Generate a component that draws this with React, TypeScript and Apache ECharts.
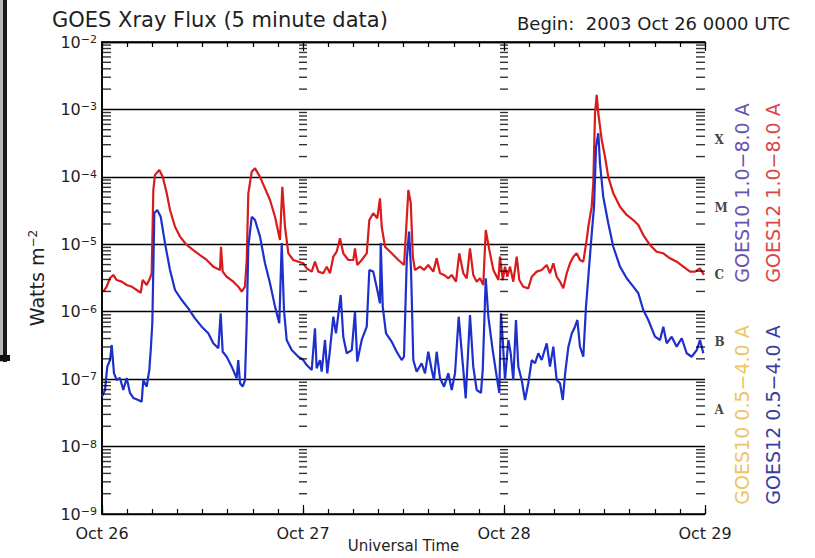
import React, { useEffect, useRef } from 'react';
import * as echarts from 'echarts';

const dayLabels = ['Oct 26', 'Oct 27', 'Oct 28', 'Oct 29'];

// GOES12 1.0-8.0 A (hours since 2003 Oct 26 00:00 UT, W m^-2)
const redHours = [
  0.16, 0.56, 0.96, 1.35, 1.76, 2.35, 2.95, 3.55, 4.14, 4.62,
  4.86, 5.34, 5.73, 5.93, 6.13, 6.33, 6.84, 7.25, 7.73, 8.12,
  8.72, 9.31, 10.11, 10.90, 11.70, 12.50, 13.29, 14.09, 14.21, 14.41,
  14.89, 15.68, 16.28, 16.68, 17.07, 17.28, 17.47, 17.88, 18.27, 18.87,
  19.46, 20.06, 20.66, 21.25, 21.53, 21.85, 22.25, 22.84, 23.44, 24.04,
  24.44, 25.04, 25.43, 25.83, 26.42, 26.83, 27.22, 27.62, 28.02, 28.42,
  28.81, 29.41, 30.01, 30.21, 30.48, 31.01, 31.61, 31.92, 32.39, 32.87,
  33.19, 33.40, 33.79, 34.59, 35.39, 36.07, 36.39, 36.58, 36.87, 37.11,
  37.37, 37.97, 38.45, 38.96, 39.56, 39.96, 40.36, 40.84, 41.35, 41.76,
  42.27, 42.66, 43.14, 43.55, 43.94, 44.33, 44.74, 45.13, 45.53, 45.82,
  46.21, 46.73, 47.33, 47.52, 47.85, 48.12, 48.40, 48.72, 49.11, 49.52,
  49.83, 50.30, 50.90, 51.31, 51.90, 52.50, 53.10, 53.49, 53.89, 54.29,
  54.69, 55.08, 55.49, 55.88, 56.28, 56.68, 57.07, 57.47, 57.87, 58.07,
  58.47, 58.66, 58.87, 59.07, 59.26, 59.67, 60.06, 60.45, 61.05, 61.85,
  62.65, 63.44, 64.04, 64.63, 65.43, 66.23, 67.02, 67.82, 68.62, 69.41,
  70.21, 70.81, 71.40, 71.88,
];
const redFlux = [
  1.98e-6, 2.35e-6, 3.16e-6, 3.51e-6, 2.95e-6, 2.79e-6, 2.49e-6, 2.35e-6, 2.10e-6, 1.91e-6,
  2.95e-6, 2.49e-6, 3.13e-6, 3.72e-6, 6.38e-5, 1.07e-4, 1.26e-4, 1.0e-4, 5.70e-5, 3.23e-5,
  1.82e-5, 1.30e-5, 9.77e-6, 8.22e-6, 6.93e-6, 5.85e-6, 4.66e-6, 4.16e-6, 9.2e-6, 3.93e-6,
  3.30e-6, 2.79e-6, 2.35e-6, 1.98e-6, 2.35e-6, 5.85e-6, 5.70e-5, 1.19e-4, 1.34e-4, 1.0e-4,
  6.76e-5, 4.54e-5, 2.56e-5, 1.16e-5, 7.14e-5, 1.82e-5, 7.35e-6, 5.85e-6, 5.52e-6, 5.22e-6,
  4.40e-6, 3.93e-6, 5.52e-6, 3.93e-6, 3.72e-6, 4.66e-6, 3.72e-6, 6.55e-6, 7.76e-6, 1.23e-5,
  7.35e-6, 5.85e-6, 5.85e-6, 8.72e-6, 4.93e-6, 5.85e-6, 7.35e-6, 2.29e-5, 2.88e-5, 2.43e-5,
  4.81e-5, 1.82e-5, 9.2e-6, 7.35e-6, 5.85e-6, 4.93e-6, 2.43e-5, 6.38e-5, 4.06e-5, 6.55e-6,
  4.16e-6, 4.66e-6, 4.16e-6, 4.93e-6, 3.93e-6, 6.2e-6, 3.72e-6, 3.51e-6, 3.13e-6, 3.51e-6,
  2.79e-6, 7.35e-6, 3.72e-6, 3.13e-6, 8.72e-6, 3.51e-6, 2.79e-6, 3.13e-6, 2.49e-6, 1.63e-5,
  8.72e-6, 4.16e-6, 2.95e-6, 6.55e-6, 2.95e-6, 4.66e-6, 3.30e-6, 4.66e-6, 2.79e-6, 6.55e-6,
  2.95e-6, 2.35e-6, 2.22e-6, 3.30e-6, 3.93e-6, 4.16e-6, 4.93e-6, 3.72e-6, 5.22e-6, 3.30e-6,
  2.79e-6, 2.22e-6, 3.72e-6, 5.22e-6, 6.55e-6, 7.35e-6, 5.85e-6, 5.52e-6, 1.16e-5, 1.82e-5,
  3.61e-5, 8.03e-5, 8.77e-4, 1.64e-3, 8.77e-4, 3.52e-4, 1.99e-4, 1.0e-4, 5.70e-5, 3.61e-5,
  2.72e-5, 2.29e-5, 1.93e-5, 1.37e-5, 9.77e-6, 7.76e-6, 7.35e-6, 6.2e-6, 5.52e-6, 4.66e-6,
  3.93e-6, 3.93e-6, 4.40e-6, 3.51e-6,
];

// GOES12 0.5-4.0 A
const blueHours = [
  0, 0.36, 0.63, 0.96, 1.16, 1.43, 1.76, 2.15, 2.54, 2.95,
  3.34, 3.74, 4.33, 4.74, 4.93, 5.34, 5.65, 5.82, 6.01, 6.25,
  6.60, 7.01, 7.52, 8.12, 8.72, 9.52, 10.30, 11.10, 11.90, 12.69,
  13.29, 13.89, 14.17, 14.41, 14.89, 15.49, 16.08, 16.27, 16.48, 16.80,
  17.07, 17.28, 17.47, 17.88, 18.27, 18.87, 19.46, 20.06, 20.66, 21.17,
  21.46, 21.73, 22.05, 22.65, 23.44, 24.04, 24.44, 25.04, 25.43, 25.63,
  26.03, 26.23, 26.63, 26.90, 27.22, 27.62, 27.94, 28.50, 28.81, 29.22,
  29.82, 30.21, 30.48, 31.01, 31.61, 31.92, 32.39, 32.87, 33.19, 33.28,
  33.52, 33.91, 34.59, 35.19, 35.78, 36.06, 36.39, 36.66, 36.90, 37.17,
  37.57, 38.17, 38.57, 38.96, 39.37, 39.64, 39.96, 40.36, 40.84, 41.35,
  41.76, 42.15, 42.59, 43.14, 43.43, 43.94, 44.33, 44.74, 45.25, 45.46,
  45.82, 46.13, 46.65, 47.13, 47.44, 47.64, 47.85, 48.12, 48.52, 48.80,
  49.11, 49.43, 49.71, 50.11, 50.51, 50.90, 51.31, 51.70, 52.10, 52.50,
  53.10, 53.49, 53.89, 54.29, 54.69, 55.02, 55.30, 55.69, 56.10, 56.48,
  56.76, 57.07, 57.47, 57.79, 58.07, 58.48, 58.75, 58.99, 59.26, 59.46,
  59.85, 60.45, 61.05, 61.85, 62.65, 63.44, 64.04, 64.63, 65.23, 66.03,
  66.63, 67.02, 67.43, 68.02, 68.62, 69.22, 69.81, 70.41, 71.01, 71.40,
  71.80,
];
const blueFlux = [
  5.5e-8, 6.9e-8, 1.53e-7, 1.92e-7, 3.21e-7, 1.23e-7, 9.7e-8, 1.04e-7, 6.9e-8, 1.04e-7,
  6.24e-8, 5.26e-8, 4.91e-8, 4.63e-8, 9.7e-8, 7.73e-8, 1.37e-7, 2.7e-7, 6.81e-7, 2.91e-5,
  3.23e-5, 2.56e-5, 1.04e-5, 4.16e-6, 2.10e-6, 1.49e-6, 1.12e-6, 7.98e-7, 6.0e-7, 4.79e-7,
  3.40e-7, 2.87e-7, 9.48e-7, 2.55e-7, 2.15e-7, 1.53e-7, 1.03e-7, 1.92e-7, 8.69e-8, 7.73e-8,
  9.7e-8, 6.73e-7, 9.2e-6, 2.56e-5, 2.29e-5, 1.30e-5, 5.22e-6, 2.64e-6, 1.19e-6, 6.73e-7,
  1.04e-5, 1.06e-6, 3.81e-7, 2.7e-7, 2.15e-7, 1.92e-7, 1.62e-7, 1.37e-7, 5.68e-7, 1.45e-7,
  1.92e-7, 1.29e-7, 3.81e-7, 1.22e-7, 2.7e-7, 8.43e-7, 4.79e-7, 1.77e-6, 4.26e-7, 2.42e-7,
  2.7e-7, 1.0e-6, 1.82e-7, 3.81e-7, 6.0e-7, 4.16e-6, 3.93e-6, 2.10e-6, 1.33e-6, 1.04e-5,
  1.19e-6, 4.79e-7, 3.59e-7, 2.55e-7, 1.92e-7, 2.15e-7, 5.85e-6, 1.54e-5, 4.16e-6, 1.92e-7,
  1.29e-7, 1.72e-7, 1.22e-7, 2.55e-7, 1.37e-7, 9.7e-8, 2.55e-7, 1.03e-7, 7.73e-8, 1.22e-7,
  6.9e-8, 1.22e-7, 8.43e-7, 1.37e-7, 5.2e-8, 8.94e-7, 1.53e-7, 6.9e-8, 6.24e-8, 1.37e-7,
  3.13e-6, 8.43e-7, 2.7e-7, 1.09e-7, 6.24e-8, 9.48e-7, 3.81e-7, 9.7e-8, 3.81e-7, 2.42e-7,
  9.7e-8, 7.54e-7, 1.53e-7, 9.7e-8, 4.91e-8, 8.69e-8, 1.92e-7, 1.72e-7, 2.42e-7, 1.92e-7,
  3.40e-7, 1.53e-7, 3.03e-7, 9.7e-8, 8.69e-8, 4.91e-8, 1.22e-7, 3.03e-7, 4.79e-7, 6.0e-7,
  7.54e-7, 3.03e-7, 2.15e-7, 1.19e-6, 3.30e-6, 1.46e-5, 3.61e-5, 2.8e-4, 4.43e-4, 1.59e-4,
  5.08e-5, 2.05e-5, 9.2e-6, 4.66e-6, 3.13e-6, 2.35e-6, 1.88e-6, 1.06e-6, 7.54e-7, 4.26e-7,
  3.81e-7, 6.0e-7, 3.40e-7, 4.26e-7, 3.03e-7, 4.04e-7, 2.42e-7, 2.15e-7, 2.7e-7, 3.81e-7,
  2.42e-7,
];

const classNames = ['X', 'M', 'C', 'B', 'A'];
const classLevels = [3.16e-4, 3.16e-5, 3.16e-6, 3.16e-7, 3.16e-8];
const tickMantissas = [2, 3, 4, 5, 6, 7, 8, 9];
const tickDecades = [-9, -8, -7, -6, -5, -4, -3];
const legendTexts = ['GOES10 1.0−8.0 A', 'GOES12 1.0−8.0 A', 'GOES10 0.5−4.0 A', 'GOES12 0.5−4.0 A'];

export default function App() {
  const ref = useRef<HTMLDivElement>(null);
  useEffect(() => {
    const chart = echarts.init(ref.current as HTMLDivElement, null, { renderer: 'svg' });
    const font = 'DejaVu Sans';
    const ink = '#1e1e1e';
    const red = redHours.map((h, i) => [h, redFlux[i]]);
    const blue = blueHours.map((h, i) => [h, blueFlux[i]]);
    const minorTicks = (x: number) =>
      tickDecades.flatMap((d) => tickMantissas.map((m) => [x, m * Math.pow(10, d)]));
    const tickSeries = (x: number, w: number, off: number) => ({
      type: 'scatter',
      silent: true,
      symbol: 'rect',
      symbolSize: [w, 1.4],
      symbolOffset: [off, 0],
      itemStyle: { color: '#000' },
      data: minorTicks(x),
      z: 5,
    });
    const xBase = { type: 'value', min: 0, max: 72, gridIndex: 0, splitLine: { show: false } };
    const axisLine = { show: true, lineStyle: { color: '#000', width: 1.6 } };
    const supRich = {
      b: { fontSize: 16, fontFamily: font, color: ink, lineHeight: 16, verticalAlign: 'middle' },
      s: { fontSize: 11, fontFamily: font, color: ink, lineHeight: 11, verticalAlign: 'top', padding: [0, 0, 14, 0] },
    };
    const option: any = {
      animation: false,
      backgroundColor: '#fff',
      grid: { left: 102, top: 42, width: 603, height: 472, containLabel: false, outerBoundsMode: 'none' },
      xAxis: [
        {
          ...xBase,
          interval: 3,
          position: 'bottom',
          axisLine,
          axisTick: { inside: true, length: 5, lineStyle: { color: '#000', width: 1.2 } },
          axisLabel: {
            formatter: (v: number) => (v % 24 === 0 ? dayLabels[v / 24] : ''),
            color: ink,
            fontFamily: font,
            fontSize: 16,
            margin: 11,
          },
          name: 'Universal Time',
          nameLocation: 'middle',
          nameGap: 24,
          nameMoveOverlap: false,
          nameTextStyle: { color: ink, fontFamily: font, fontSize: 15, lineHeight: 15 },
        },
        {
          ...xBase,
          interval: 3,
          position: 'top',
          axisLine,
          axisTick: { inside: true, length: 5, lineStyle: { color: '#000', width: 1.2 } },
          axisLabel: { show: false },
        },
        {
          ...xBase,
          interval: 24,
          position: 'bottom',
          axisLine: { show: false },
          axisTick: { inside: true, length: 9, lineStyle: { color: '#000', width: 1.2 } },
          axisLabel: { show: false },
        },
        {
          ...xBase,
          interval: 24,
          position: 'top',
          axisLine: { show: false },
          axisTick: { inside: true, length: 9, lineStyle: { color: '#000', width: 1.2 } },
          axisLabel: { show: false },
        },
      ],
      yAxis: [
        {
          type: 'log',
          logBase: 10,
          min: 1e-9,
          max: 1e-2,
          position: 'left',
          axisLine,
          axisTick: { show: false },
          splitLine: { show: true, lineStyle: { color: '#000', width: 1.3 } },
          axisLabel: {
            margin: 5,
            formatter: (v: number) => `{b|10}{s|−${-Math.round(Math.log10(v))}}`,
            rich: supRich,
          },
          name: '{b|Watts m}{s|−2}',
          nameLocation: 'middle',
          nameRotate: 90,
          nameGap: 56,
          nameMoveOverlap: false,
          nameTextStyle: {
            rich: {
              b: { fontSize: 19, fontFamily: font, color: ink, lineHeight: 19, verticalAlign: 'middle' },
              s: { fontSize: 12, fontFamily: font, color: ink, lineHeight: 12, verticalAlign: 'top', padding: [0, 0, 16, 0] },
            },
          },
        },
        {
          type: 'log',
          logBase: 10,
          min: 1e-9,
          max: 1e-2,
          position: 'right',
          axisLine,
          axisTick: { show: false },
          splitLine: { show: false },
          axisLabel: { show: false },
        },
      ],
      series: [
        {
          name: 'GOES12 1.0-8.0 A',
          type: 'line',
          data: red,
          showSymbol: false,
          lineStyle: { color: '#d81c1c', width: 2.2 },
          itemStyle: { color: '#d81c1c' },
          z: 3,
        },
        {
          name: 'GOES12 0.5-4.0 A',
          type: 'line',
          data: blue,
          showSymbol: false,
          lineStyle: { color: '#1e30cc', width: 2.2 },
          itemStyle: { color: '#1e30cc' },
          z: 4,
        },
        tickSeries(0, 9, 4.5),
        tickSeries(24, 8, 0),
        tickSeries(48, 8, 0),
        tickSeries(72, 9, -4.5),
        {
          type: 'scatter',
          silent: true,
          symbolSize: 1,
          itemStyle: { color: 'rgba(0,0,0,0)' },
          data: classLevels.map((v) => [72, v]),
          label: {
            show: true,
            position: 'right',
            distance: 9,
            offset: [0, -3],
            formatter: (p: any) => classNames[p.dataIndex],
            fontFamily: 'DejaVu Serif',
            fontWeight: 'bold',
            fontSize: 12,
            color: '#111',
          },
          z: 6,
        },
      ],
      graphic: [
        { type: 'rect', shape: { x: 0, y: 0, width: 3, height: 362 }, style: { fill: '#b8b8b8' }, silent: true },
        { type: 'rect', shape: { x: 3, y: 0, width: 4, height: 362 }, style: { fill: '#1a1a1a' }, silent: true },
        { type: 'rect', shape: { x: 0, y: 355, width: 10, height: 6 }, style: { fill: '#111' }, silent: true },
        {
          type: 'text', x: 52, y: 20,
          style: { text: 'GOES Xray Flux (5 minute data)', fill: ink, font: `21px "${font}"`, align: 'left', verticalAlign: 'middle', textAlign: 'left', textVerticalAlign: 'middle' },
        },
        {
          type: 'text', x: 517, y: 23,
          style: { text: 'Begin:  2003 Oct 26 0000 UTC', fill: ink, font: `18px "${font}"`, align: 'left', verticalAlign: 'middle', textAlign: 'left', textVerticalAlign: 'middle' },
        },
        {
          type: 'text', x: 742, y: 193, rotation: Math.PI / 2,
          style: { text: legendTexts[0], fill: '#6a52b0', font: `19px "${font}"`, align: 'center', verticalAlign: 'middle', textAlign: 'center', textVerticalAlign: 'middle' },
        },
        {
          type: 'text', x: 773, y: 193, rotation: Math.PI / 2,
          style: { text: legendTexts[1], fill: '#dc4646', font: `19px "${font}"`, align: 'center', verticalAlign: 'middle', textAlign: 'center', textVerticalAlign: 'middle' },
        },
        {
          type: 'text', x: 742, y: 415, rotation: Math.PI / 2,
          style: { text: legendTexts[2], fill: '#eec464', font: `19px "${font}"`, align: 'center', verticalAlign: 'middle', textAlign: 'center', textVerticalAlign: 'middle' },
        },
        {
          type: 'text', x: 773, y: 415, rotation: Math.PI / 2,
          style: { text: legendTexts[3], fill: '#3c3ca0', font: `19px "${font}"`, align: 'center', verticalAlign: 'middle', textAlign: 'center', textVerticalAlign: 'middle' },
        },
      ],
    };
    chart.setOption(option);
    return () => chart.dispose();
  }, []);
  return (
    <div
      ref={ref}
      style={{ position: 'absolute', left: 0, top: 0, width: 815, height: 558, background: '#fff' }}
    />
  );
}
